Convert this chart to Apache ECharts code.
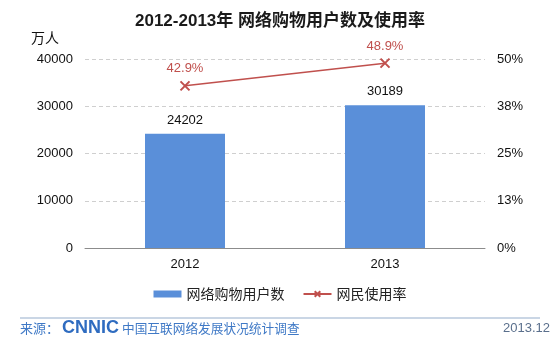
<!DOCTYPE html>
<html><head><meta charset="utf-8">
<script src="https://cdn.jsdelivr.net/npm/echarts@6/dist/echarts.min.js"></script>
<style>html,body{margin:0;padding:0;background:#fff}#c{width:560px;height:338px}</style>
</head><body><div id="c"></div>
<script>
const categories = ['2012', '2013'];
const users = [24202, 30189];
const rates = [42.9, 48.9];
const leftTicks = [0, 10000, 20000, 30000, 40000];
const rightTickLabels = ['0%', '13%', '25%', '38%', '50%'];
const seriesNames = ['网络购物用户数', '网民使用率'];

const font = '"Liberation Sans", Arial, "Noto Sans CJK SC", sans-serif';
const chart = echarts.init(document.getElementById('c'), null, {renderer: 'canvas'});
chart.setOption({
  backgroundColor: '#fff',
  animation: false,
  textStyle: {fontFamily: font},
  title: {
    text: '2012-2013年 网络购物用户数及使用率',
    left: 'center', top: 8,
    textStyle: {fontSize: 17, fontWeight: 'bold', color: '#1a1a1a', fontFamily: '"Liberation Sans", "Noto Sans CJK SC", sans-serif'}
  },
  legend: {
    bottom: 32, left: 'center',
    itemWidth: 28, itemHeight: 7, itemGap: 18,
    textStyle: {fontSize: 14, color: '#222', fontFamily: '"Noto Sans CJK SC", sans-serif'},
    data: [
      {name: seriesNames[0], icon: 'rect'},
      {name: seriesNames[1]}
    ]
  },
  grid: {left: 85, right: 75, top: 59, bottom: 90, containLabel: false},
  xAxis: {
    type: 'category', data: categories,
    axisLine: {lineStyle: {color: '#8c8c8c'}},
    axisTick: {show: false},
    axisLabel: {fontSize: 13, color: '#111', margin: 10}
  },
  yAxis: [
    {
      type: 'value', min: 0, max: 40000, interval: 10000,
      name: '万人', nameLocation: 'end', nameGap: 14,
      nameTextStyle: {fontSize: 14, color: '#111', align: 'right', padding: [0, 26, 0, 0], fontFamily: '"Noto Sans CJK SC", sans-serif'},
      axisLine: {show: false}, axisTick: {show: false},
      axisLabel: {fontSize: 13, color: '#111', margin: 12, formatter: function (v) { return String(v); }},
      splitLine: {lineStyle: {type: [4, 3], color: '#cfcfcf'}}
    },
    {
      type: 'value', min: 0, max: 50, interval: 12.5,
      axisLine: {show: false}, axisTick: {show: false},
      axisLabel: {fontSize: 13, color: '#111', margin: 12,
        formatter: function (v) { return rightTickLabels[Math.round(v / 12.5)]; }},
      splitLine: {show: false}
    }
  ],
  series: [
    {
      name: seriesNames[0], type: 'bar', data: users, barWidth: '40%',
      itemStyle: {color: '#5a8fd9'},
      label: {show: true, position: 'top', distance: 7, fontSize: 13, color: '#111'}
    },
    {
      name: seriesNames[1], type: 'line', yAxisIndex: 1, data: rates,
      symbol: 'path://M0,0 L10,10 M10,0 L0,10', symbolSize: 9,
      lineStyle: {color: '#c0504d', width: 1.5},
      itemStyle: {color: '#c0504d', borderColor: '#c0504d', borderWidth: 2},
      label: {show: true, position: 'top', distance: 5, fontSize: 13, color: '#c0504d',
        formatter: function (p) { return p.value.toFixed(1) + '%'; }}
    }
  ],
  graphic: [
    {type: 'line', shape: {x1: 20, y1: 318, x2: 540, y2: 318}, style: {stroke: '#b8c8dc', lineWidth: 1.5}},
    {type: 'text', left: 20, top: 322, style: {text: '来源：', fontSize: 13, fill: '#3f79c6', fontFamily: '"Noto Sans CJK SC", sans-serif'}},
    {type: 'text', left: 62, top: 319, style: {text: 'CNNIC', fontSize: 18, fontWeight: 'bold', fill: '#2f6cc0', fontFamily: '"Liberation Sans", Arial, sans-serif'}},
    {type: 'text', left: 122, top: 322, style: {text: '中国互联网络发展状况统计调查', fontSize: 12.7, fill: '#3f79c6', fontFamily: '"Noto Sans CJK SC", sans-serif'}},
    {type: 'text', right: 10, top: 322, style: {text: '2013.12', fontSize: 13, fill: '#5a6f8c', fontFamily: '"Liberation Sans", Arial, sans-serif'}}
  ]
});
</script></body></html>
